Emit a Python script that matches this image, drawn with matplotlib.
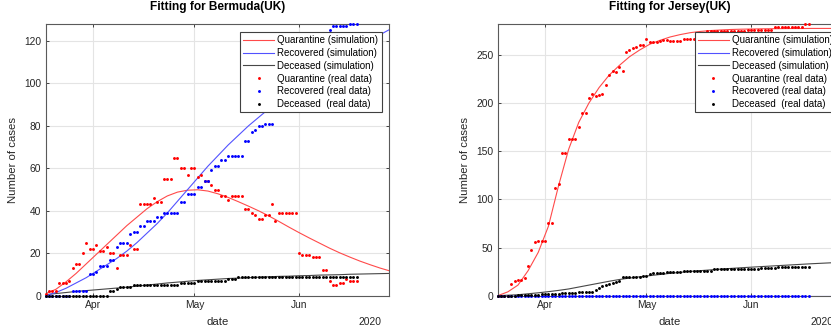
import datetime as dt

import matplotlib

matplotlib.use("Agg")
import matplotlib.dates as mdates
import matplotlib.pyplot as plt
import numpy as np

plt.rcParams["font.family"] = ["Liberation Sans", "DejaVu Sans"]

# ---- data (daily points start 2020-03-18) ----
START = dt.datetime(2020, 3, 18)
X_END_DAYS = 101.6

# Bermuda (UK), real data
bermuda_quarantine = [
    1, 2, 2, 2, 6, 6, 6, 7, 13, 15, 15, 20, 25, 22, 22, 24, 21, 21, 23, 20,
    20, 13, 19, 19, 19, 24, 22, 22, 43, 43, 43, 43, 46, 44, 44, 55, 55, 55, 65, 65,
    60, 60, 57, 60, 60, 56, 57, 54, 54, 52, 50, 50, 47, 47, 45, 47, 47, 47, 47, 41,
    41, 39, 38, 36, 36, 38, 38, 43, 35, 39, 39, 39, 39, 39, 39, 20, 19, 19, 19, 18,
    18, 18, 12, 12, 7, 5, 5, 6, 6, 8, 7, 7, 7,
]
bermuda_recovered = [
    0, 0, 0, 0, 0, 0, 0, 0, 2, 2, 2, 2, 2, 10, 10, 11, 14, 14, 14, 17,
    17, 23, 25, 25, 25, 29, 30, 30, 33, 33, 35, 35, 35, 37, 37, 39, 39, 39, 39, 39,
    44, 44, 48, 48, 48, 51, 51, 54, 54, 59, 61, 61, 64, 64, 66, 66, 66, 66, 66, 73,
    73, 77, 78, 80, 80, 81, 81, 81, 88, 90, 92, 94, 96, 98, 100, 102, 104, 106, 108, 110,
    112, 115, 118, 121, 125, 127, 127, 127, 127, 127, 128, 128, 128,
]
bermuda_deceased = [0] * 19 + [2, 2, 3, 4, 4, 4, 4] + [5] * 14 + [6] * 5 + [7] * 9 + [8] * 3 + [9] * 36

# Bermuda (UK), simulation sampled every 3 days
sim_days = list(range(0, 103, 3))
bermuda_sim_quarantine = [
    1, 3, 6.5, 10.5, 15, 19.5, 24, 28.5, 33, 37, 41, 44.3, 47, 48.8, 49.7, 49.9, 49.3, 48,
    46.3, 44.3, 42.2, 40, 37.6, 35, 32.3, 29.7, 27.2, 24.8, 22.4, 20.2, 18.2, 16.3, 14.6, 13, 11.6,
]
bermuda_sim_recovered = [
    0, 1.5, 3.5, 6, 8.5, 11.5, 14.5, 17.5, 21, 25, 29.5, 34, 39, 44.5, 50, 55.5, 61, 66,
    71, 75.5, 80, 84, 88, 92, 95.5, 99, 102.5, 105.5, 108.5, 111.5, 115, 117.8, 120.4, 123, 125.6,
]
bermuda_sim_deceased = [
    0.5, 1, 1.5, 2, 2.4, 2.8, 3.2, 3.6, 4, 4.5, 5, 5.5, 6, 6.4, 6.8, 7.2, 7.5, 7.8,
    8.1, 8.3, 8.5, 8.7, 8.9, 9.1, 9.2, 9.4, 9.5, 9.7, 9.8, 9.9, 10.1, 10.2, 10.3, 10.4, 10.5,
]

# Jersey (UK), real data
jersey_quarantine = [
    0, 0, 0, 0, 12, 15, 16, 16, 18, 31, 47, 56, 57, 57, 57, 75, 75, 112, 116, 148,
    148, 163, 163, 163, 175, 190, 190, 205, 209, 207, 208, 209, 219, 229, 233, 232, 237, 233, 253, 255,
    257, 258, 260, 260, 266, 263, 263, 263, 264, 265, 265, 264, 264, 264, 264, 266, 266, 266, 266,
    268, 270, 272,
] + [275] * 12 + [276] * 8 + [279] * 9 + [282, 282]
jersey_recovered = [0] * 93
jersey_deceased = (
    [0] * 6 + [1] * 7 + [2] * 6 + [3] * 5 + [4] * 5
    + [6, 8, 10, 11, 12, 13, 14, 15] + [19] * 6 + [20, 20, 23] + [24] * 4 + [25] * 5
    + [26] * 9 + [28] * 14 + [29] * 5 + [30] * 10
)

# Jersey (UK), simulation sampled every 3 days
jersey_sim_quarantine = [
    0, 4, 11, 26, 45, 72, 114, 152, 180, 200, 216, 229, 239, 248, 255, 261, 265, 268.5,
    271, 273, 274.3, 275.2, 275.8, 276.3, 276.6, 276.8, 277, 277.1, 277.2, 277.3, 277.3, 277.4, 277.4, 277.4, 277.5,
]
jersey_sim_recovered = [0] * len(sim_days)
jersey_sim_deceased = [
    0, 0.5, 1, 2, 3, 4.2, 5.5, 7, 9, 11, 13, 15, 16.8, 18.3, 19.6, 20.8, 22, 23.2,
    24.2, 25.2, 26, 26.8, 27.6, 28.3, 29, 29.6, 30.2, 30.8, 31.4, 32, 32.6, 33.2, 33.7, 34.2, 34.7,
]

PANELS = [
    dict(title="Fitting for Bermuda(UK)", q=bermuda_quarantine, r=bermuda_recovered, d=bermuda_deceased,
         sq=bermuda_sim_quarantine, sr=bermuda_sim_recovered, sd=bermuda_sim_deceased,
         ymax=128, yticks=[0, 20, 40, 60, 80, 100, 120], left=45.7, leg=(0.9787, 0.9705, "upper right")),
    dict(title="Fitting for Jersey(UK)", q=jersey_quarantine, r=jersey_recovered, d=jersey_deceased,
         sq=jersey_sim_quarantine, sr=jersey_sim_recovered, sd=jersey_sim_deceased,
         ymax=282, yticks=[0, 50, 100, 150, 200, 250], left=497.7, leg=(0.5733, 0.9705, "upper left")),
]

W, H = 831, 331
AX_W, AX_TOP, AX_BOT = 343.3, 24.0, 295.7
TICK_COLOR = "#262626"


def draw_panel(ax, p):
    t0 = mdates.date2num(START)
    x_data = t0 + np.arange(len(p["q"]))
    x_sim = t0 + np.asarray(sim_days, dtype=float)

    ax.plot(x_sim, p["sq"], color="#ff4a4a", lw=0.8, label="Quarantine (simulation)")
    ax.plot(x_sim, p["sr"], color="#5252ff", lw=0.8, label="Recovered (simulation)", zorder=2.6)
    ax.plot(x_sim, p["sd"], color="#474747", lw=0.8, label="Deceased (simulation)")
    dots = dict(ls="none", marker="o", ms=2.1, mew=0, clip_on=False, zorder=3)
    ax.plot(x_data, p["q"], color="#ff0000", label="Quarantine (real data)", **dots)
    ax.plot(x_data, p["r"], color="#0000ff", label="Recovered (real data)", **dots)
    ax.plot(x_data, p["d"], color="#000000", label="Deceased  (real data)", **dots)

    ax.set_xlim(t0, t0 + X_END_DAYS)
    ax.set_ylim(0, p["ymax"])
    ax.set_yticks(p["yticks"])
    ax.xaxis.set_major_locator(mdates.MonthLocator(bymonthday=1))
    ax.xaxis.set_major_formatter(mdates.DateFormatter("%b"))

    ax.grid(True, color="#e4e4e4", lw=0.8)
    ax.set_axisbelow(True)
    ax.tick_params(direction="in", length=2.5, width=0.6, color=TICK_COLOR, labelcolor=TICK_COLOR,
                   labelsize=7.4, top=True, right=True, pad=3.2)
    for s in ax.spines.values():
        s.set_color("#5a5a5a")
        s.set_linewidth(0.8)

    ax.set_title(p["title"], fontsize=8.6, fontweight="bold", y=1.033, va="center")
    ax.set_xlabel("date", fontsize=8.2, color=TICK_COLOR)
    ax.xaxis.label.set_va("center")
    ax.xaxis.set_label_coords(0.5, -0.097)
    ax.set_ylabel("Number of cases", fontsize=8.2, color=TICK_COLOR)
    ax.yaxis.label.set_va("center")
    ax.yaxis.set_label_coords(-0.094, 0.5)
    ax.text(0.977, -0.097, "2020", transform=ax.transAxes, ha="right", va="center",
            fontsize=7.4, color=TICK_COLOR)

    lx, ly, loc = p["leg"]
    leg = ax.legend(loc=loc, bbox_to_anchor=(lx, ly), borderaxespad=0, fontsize=7.0,
                    handlelength=3.2, handletextpad=0.3, borderpad=0.35, labelspacing=0.28,
                    fancybox=False, framealpha=1, edgecolor="#404040", numpoints=1)
    leg.get_frame().set_linewidth(0.8)
    leg.set_zorder(5)


def main():
    fig = plt.figure(figsize=(W / 100, H / 100), dpi=100)
    for p in PANELS:
        ax = fig.add_axes([p["left"] / W, (H - AX_BOT) / H, AX_W / W, (AX_BOT - AX_TOP) / H])
        draw_panel(ax, p)
    fig.savefig("out.png", dpi=100)


if __name__ == "__main__":
    main()
